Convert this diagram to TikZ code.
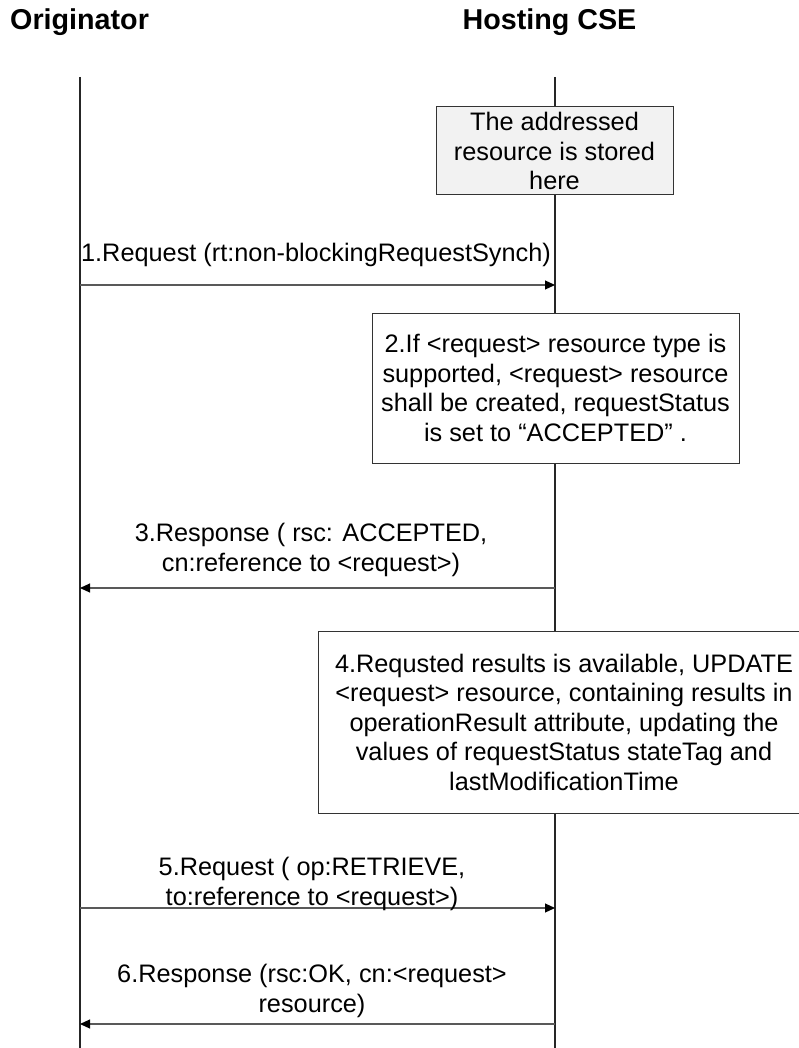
\documentclass[tikz,border=0pt]{standalone}
\usepackage{fontspec}
\setmainfont{Liberation Sans}
\usetikzlibrary{arrows.meta, positioning}

\tikzset{
  lifeline/.style={draw=black!85, line width=1.2pt},
  msgarrow/.style={draw=black!65, line width=1.1pt, -{Triangle[length=10pt,width=9pt,color=black]}},
  msglabel/.style={align=center, inner sep=0pt, font=\fontsize{25.3}{29.5}\selectfont},
  notebox/.style={draw=black!80, line width=1pt, fill=white, align=center, inner sep=0pt, font=\fontsize{25.3}{29.5}\selectfont},
  actor/.style={inner sep=0pt, font=\fontsize{28.7}{32}\selectfont\bfseries}
}

\begin{document}
\begin{tikzpicture}[x=1pt, y=-1pt]
  \useasboundingbox (0,0) rectangle (799,1048);

  % participants
  \node[actor, anchor=base west] (orig) at (10,30) {Originator};
  \node[actor, anchor=base] (host) at (549.5,30) {Hosting CSE};

  % lifelines
  \coordinate (orig top) at (80,77);
  \coordinate (orig end) at (80,1048);
  \coordinate (host top) at (555,77);
  \coordinate (host end) at (555,1048);
  \draw[lifeline] (orig top) -- (orig end);
  \draw[lifeline] (host top) -- (host end);

  % notes on the hosting CSE
  \node[notebox, fill=black!5, minimum width=237pt, minimum height=88pt] (stored) at (554.5,151)
    {The addressed\\resource is stored\\here};
  \node[notebox, minimum width=367pt, minimum height=150pt] (created) at (555.5,388)
    {2.If <request> resource type is\\supported, <request> resource\\shall be created, requestStatus\\is set to “ACCEPTED” .};
  \node[notebox, minimum width=492pt, minimum height=182pt] (updated) at (564,722)
    {4.Requsted results is available, UPDATE\\<request> resource, containing results in\\operationResult attribute, updating the\\values of requestStatus stateTag and\\lastModificationTime};

  % 1. request
  \coordinate (req1 o) at (80,285);
  \coordinate (req1 h) at (555,285);
  \draw[msgarrow] (req1 o) -- (req1 h);
  \node[msglabel] (req1 text) at (316,255) {1.Request (rt:non-blockingRequestSynch)};

  % 3. response
  \coordinate (rsp3 h) at (555,588);
  \coordinate (rsp3 o) at (80,588);
  \draw[msgarrow] (rsp3 h) -- (rsp3 o);
  \node[msglabel] (rsp3 text) at (311,550) {3.Response ( rsc: ACCEPTED,\\cn:reference to <request>)};

  % 5. request
  \coordinate (req5 o) at (80,908);
  \coordinate (req5 h) at (555,908);
  \draw[msgarrow] (req5 o) -- (req5 h);
  \node[msglabel] (req5 text) at (312,884) {5.Request ( op:RETRIEVE,\\to:reference to <request>)};

  % 6. response
  \coordinate (rsp6 h) at (555,1024);
  \coordinate (rsp6 o) at (80,1024);
  \draw[msgarrow] (rsp6 h) -- (rsp6 o);
  \node[msglabel] (rsp6 text) at (312,991) {6.Response (rsc:OK, cn:<request>\\resource)};

\end{tikzpicture}
\end{document}
